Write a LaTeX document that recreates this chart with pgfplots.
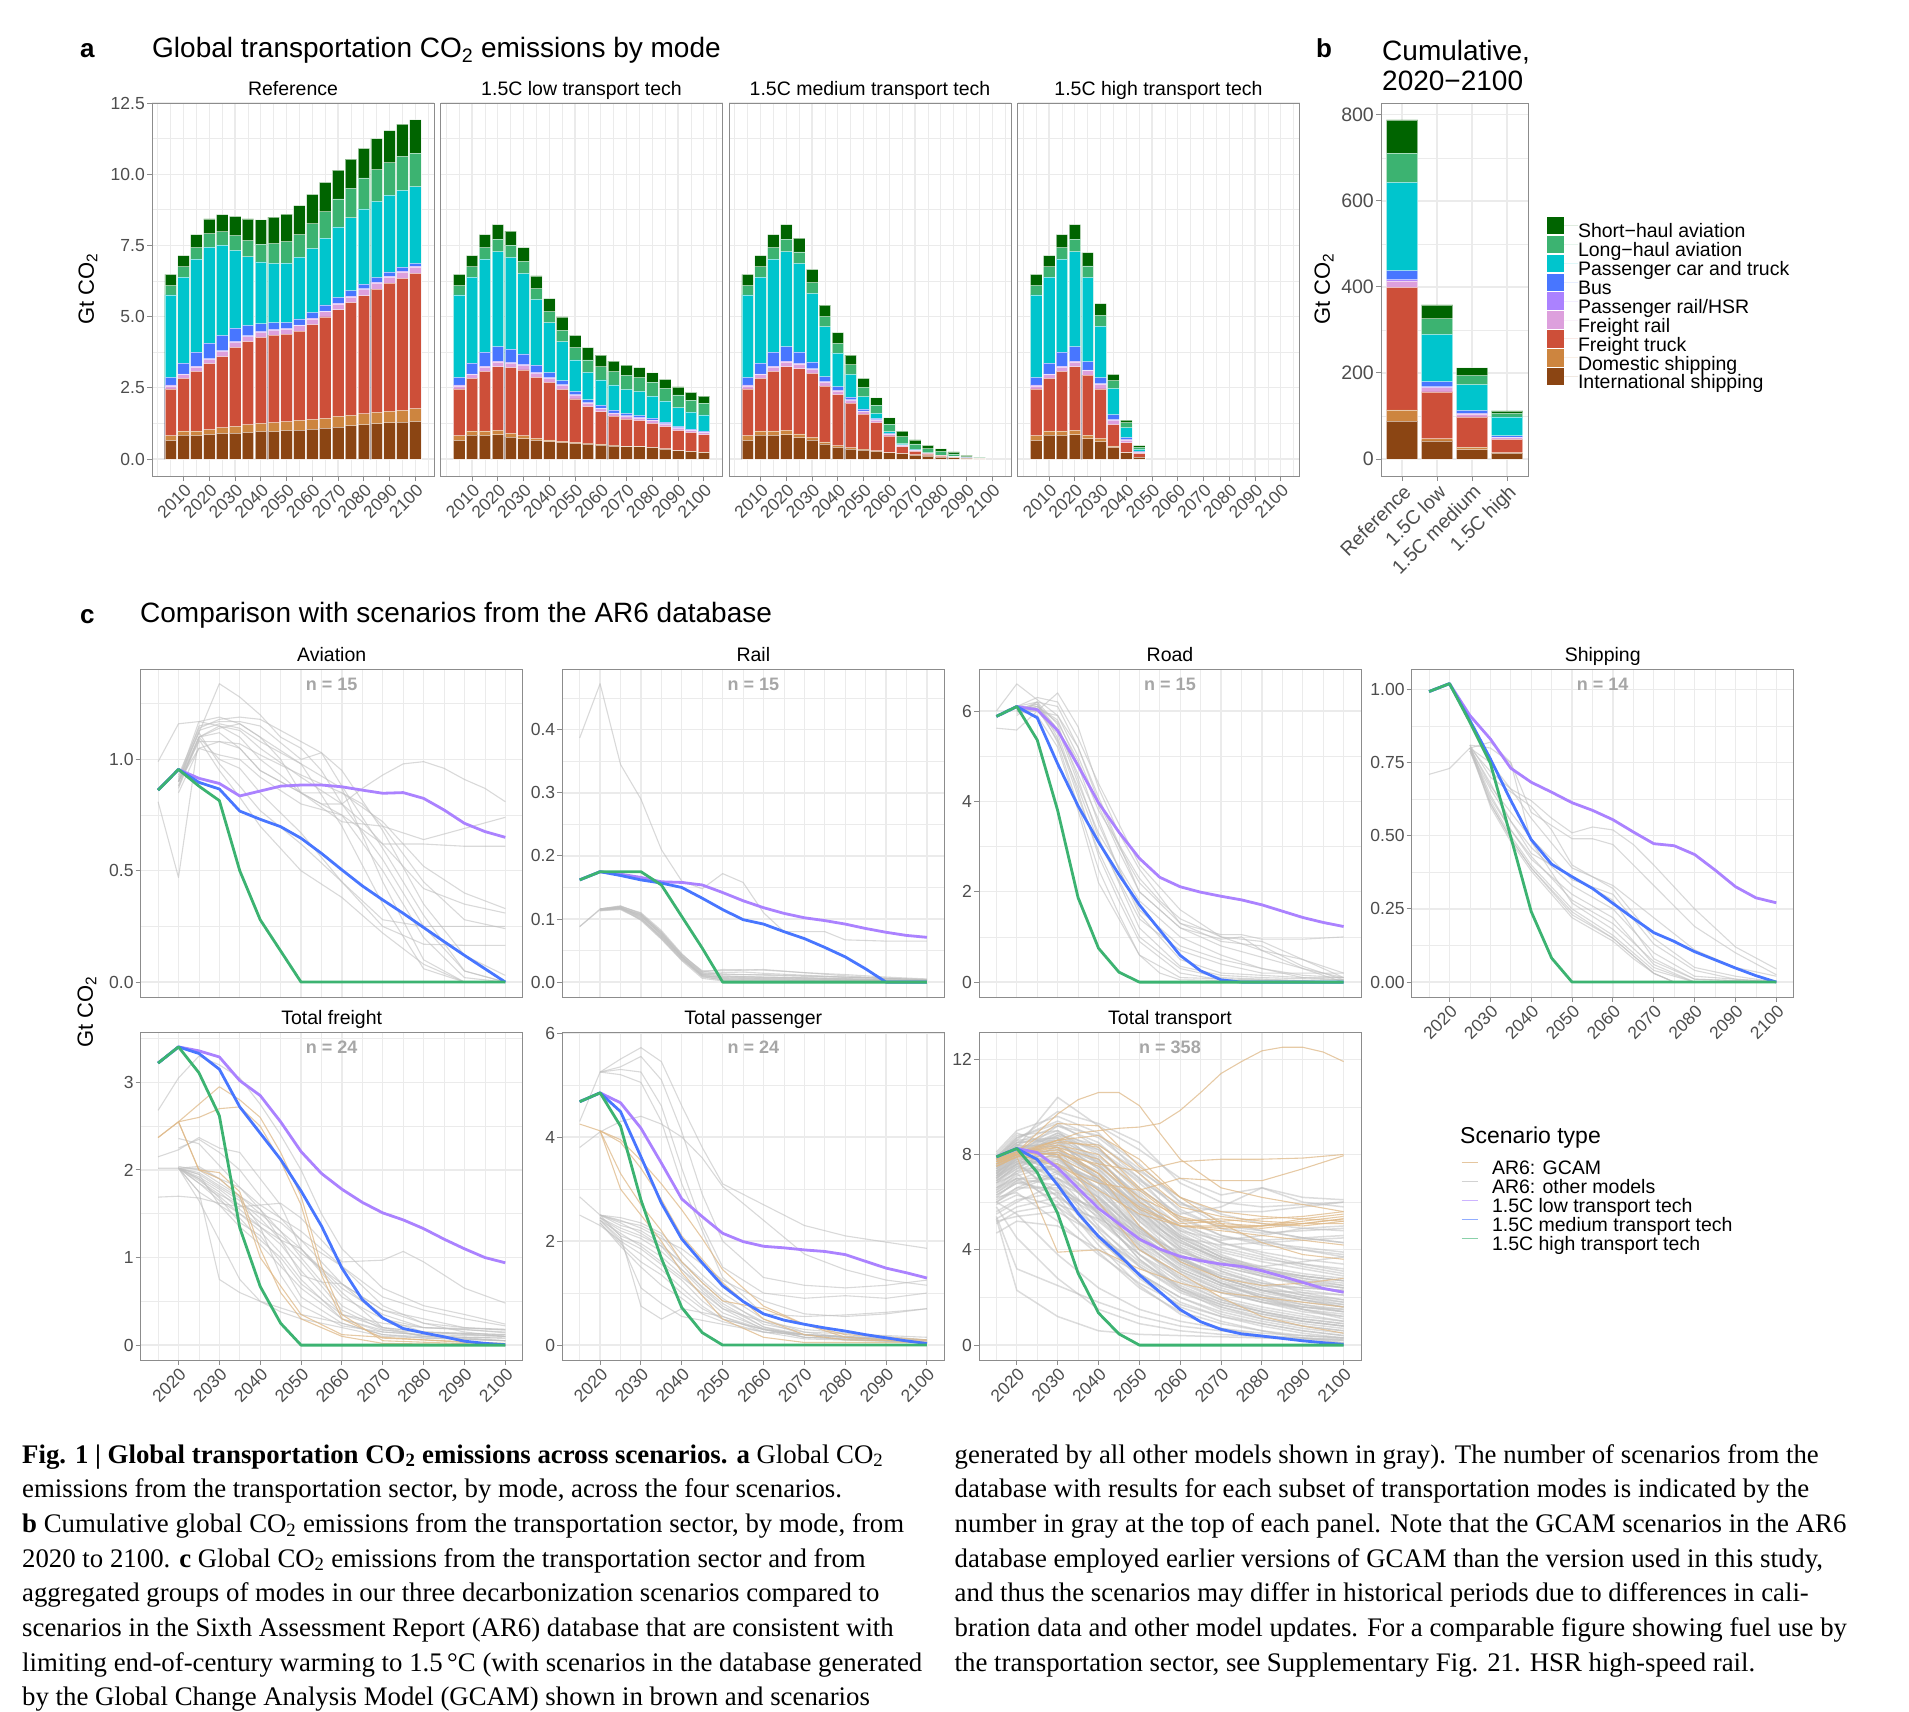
\documentclass[border=0pt]{standalone}
\usepackage{fontspec}
\setmainfont{Liberation Serif}
\newfontfamily\sans{Liberation Sans}
\usepackage{pgfplots}
\usepackage{pgfplotstable}
\pgfplotsset{compat=1.18}

\definecolor{shcol}{HTML}{006400}
\definecolor{lhcol}{HTML}{3CB371}
\definecolor{cacol}{HTML}{00C5CD}
\definecolor{bucol}{HTML}{4876FF}
\definecolor{prcol}{HTML}{AB82FF}
\definecolor{frcol}{HTML}{DDA0DD}
\definecolor{ftcol}{HTML}{CD4F39}
\definecolor{dscol}{HTML}{CD853F}
\definecolor{iscol}{HTML}{8B4513}
\definecolor{gcam}{HTML}{DEB887}
\definecolor{ticktext}{HTML}{4D4D4D}

\newcommand{\fs}[1]{\fontsize{#1}{#1}\selectfont}
\newcommand{\nlab}[1]{\node[font=\sans\bfseries\fs{18}, text=black!35, anchor=base, inner sep=0pt, yshift=-21pt] at (rel axis cs:0.5,1) {n = #1};}

% cumulative stack tops (Gt CO2): intl shipping, +domestic, +freight truck, +freight rail, +pass. rail, +bus, +car, +long-haul, +short-haul
\pgfplotstableread{
yr is ds ft fr pr bu ca lh sh
2005 0.66 0.82 2.46 2.57 2.60 2.87 5.76 6.09 6.48
2010 0.84 0.99 2.83 2.96 2.99 3.37 6.39 6.75 7.14
2015 0.83 0.99 3.08 3.23 3.26 3.75 7.02 7.42 7.88
2020 0.87 1.03 3.35 3.50 3.53 4.07 7.44 7.91 8.43
2025 0.90 1.10 3.60 3.78 3.81 4.34 7.51 7.98 8.58
2030 0.91 1.15 3.92 4.10 4.13 4.60 7.33 7.84 8.52
2035 0.94 1.21 4.12 4.30 4.33 4.69 7.10 7.67 8.43
2040 0.97 1.25 4.27 4.45 4.48 4.75 6.92 7.55 8.40
2045 0.97 1.28 4.35 4.52 4.55 4.79 6.87 7.56 8.49
2050 1.01 1.31 4.39 4.56 4.59 4.80 6.88 7.63 8.60
2055 1.02 1.36 4.49 4.68 4.71 4.92 7.09 7.88 8.90
2060 1.05 1.39 4.72 4.92 4.95 5.15 7.40 8.26 9.29
2065 1.09 1.43 4.99 5.17 5.20 5.41 7.76 8.68 9.71
2070 1.12 1.50 5.24 5.44 5.47 5.68 8.15 9.13 10.14
2075 1.17 1.53 5.49 5.69 5.72 5.91 8.47 9.50 10.53
2080 1.21 1.59 5.73 5.95 5.98 6.14 8.78 9.87 10.91
2085 1.24 1.64 5.97 6.18 6.21 6.38 9.05 10.16 11.25
2090 1.28 1.67 6.18 6.39 6.42 6.57 9.27 10.40 11.53
2095 1.30 1.71 6.34 6.57 6.60 6.74 9.43 10.63 11.76
2100 1.32 1.77 6.52 6.74 6.77 6.87 9.56 10.74 11.91
}\refdata

\pgfplotstableread{
yr is ds ft fr pr bu ca lh sh
2005 0.66 0.82 2.46 2.57 2.60 2.87 5.76 6.09 6.48
2010 0.84 0.99 2.83 2.96 2.99 3.37 6.39 6.75 7.14
2015 0.83 0.99 3.08 3.23 3.26 3.75 7.02 7.42 7.88
2020 0.85 1.01 3.24 3.41 3.44 3.95 7.28 7.72 8.23
2025 0.77 0.90 3.21 3.36 3.39 3.86 7.08 7.51 8.00
2030 0.71 0.82 3.13 3.29 3.32 3.69 6.52 6.94 7.42
2035 0.66 0.73 2.87 3.01 3.04 3.30 5.61 5.98 6.43
2040 0.61 0.67 2.69 2.83 2.86 3.04 4.79 5.18 5.63
2045 0.59 0.62 2.45 2.59 2.61 2.75 4.12 4.52 4.99
2050 0.55 0.59 2.11 2.24 2.26 2.38 3.48 3.91 4.34
2055 0.53 0.55 1.84 1.96 1.98 2.08 3.04 3.48 3.91
2060 0.49 0.52 1.66 1.77 1.79 1.89 2.78 3.24 3.65
2065 0.46 0.48 1.51 1.60 1.62 1.72 2.60 3.07 3.44
2070 0.43 0.45 1.41 1.50 1.52 1.60 2.45 2.94 3.30
2075 0.43 0.45 1.35 1.44 1.46 1.53 2.38 2.86 3.21
2080 0.40 0.41 1.25 1.35 1.37 1.44 2.21 2.70 3.03
2085 0.35 0.36 1.14 1.22 1.24 1.30 2.03 2.48 2.80
2090 0.29 0.30 1.00 1.08 1.10 1.15 1.81 2.25 2.53
2095 0.26 0.27 0.93 1.00 1.02 1.05 1.65 2.07 2.34
2100 0.23 0.25 0.85 0.93 0.95 0.98 1.55 1.96 2.21
}\lowdata

\pgfplotstableread{
yr is ds ft fr pr bu ca lh sh
2005 0.66 0.82 2.46 2.57 2.60 2.87 5.76 6.09 6.48
2010 0.84 0.99 2.83 2.96 2.99 3.37 6.39 6.75 7.14
2015 0.83 0.99 3.08 3.23 3.26 3.75 7.02 7.42 7.88
2020 0.85 1.01 3.24 3.41 3.44 3.95 7.28 7.72 8.23
2025 0.75 0.88 3.17 3.33 3.36 3.76 6.87 7.27 7.76
2030 0.67 0.76 3.01 3.15 3.17 3.41 5.82 6.19 6.66
2035 0.53 0.60 2.56 2.70 2.72 2.89 4.65 5.00 5.40
2040 0.41 0.47 2.26 2.39 2.41 2.54 3.72 4.06 4.44
2045 0.35 0.40 1.96 2.06 2.08 2.17 2.97 3.31 3.65
2050 0.32 0.35 1.58 1.67 1.69 1.76 2.19 2.52 2.83
2055 0.27 0.29 1.28 1.37 1.38 1.43 1.60 1.89 2.15
2060 0.22 0.23 0.81 0.87 0.88 0.90 0.96 1.23 1.45
2065 0.19 0.20 0.43 0.48 0.49 0.50 0.54 0.78 0.98
2070 0.14 0.15 0.27 0.30 0.31 0.32 0.34 0.53 0.67
2075 0.11 0.12 0.18 0.20 0.20 0.21 0.22 0.36 0.48
2080 0.07 0.08 0.12 0.13 0.13 0.135 0.14 0.27 0.36
2085 0.05 0.05 0.07 0.08 0.08 0.085 0.09 0.18 0.25
2090 0.02 0.02 0.035 0.04 0.04 0.045 0.05 0.08 0.13
2095 0.01 0.01 0.015 0.02 0.02 0.02 0.02 0.05 0.06
}\meddata

\pgfplotstableread{
yr is ds ft fr pr bu ca lh sh
2005 0.66 0.82 2.46 2.57 2.60 2.87 5.76 6.09 6.48
2010 0.84 0.99 2.83 2.96 2.99 3.37 6.39 6.75 7.14
2015 0.83 0.99 3.08 3.23 3.26 3.75 7.02 7.42 7.88
2020 0.85 1.01 3.24 3.41 3.44 3.95 7.28 7.72 8.23
2025 0.71 0.84 2.95 3.10 3.13 3.42 6.38 6.78 7.25
2030 0.61 0.73 2.46 2.63 2.65 2.86 4.67 5.04 5.46
2035 0.41 0.46 1.21 1.36 1.38 1.56 2.48 2.75 2.97
2040 0.22 0.23 0.57 0.67 0.68 0.76 1.10 1.28 1.37
2045 0.07 0.07 0.19 0.25 0.25 0.27 0.34 0.41 0.47
}\highdata

% cumulative 2020-2100 (Gt CO2), same stacking
\pgfplotstableread{
k is ds ft fr pr bu ca lh sh
0 88 114 399 414 417 438 643 711 788
1 42 47 156 166 168 180 290 326 358
2 22 28 98 105 106 113 173 194 212
3 14 15 46 50 51 54 98 106 112
}\cumdata

% total transport, AR6 other models (selection)
\pgfplotstableread{
yr t1 t2 t3 t4 t5 t6 t7 t8 t9 t10 t11 t12 t13 t14 t15 t16 t17 t18 t19 t20 t21 t22 t23 t24 t25 t26 t27 t28 t29 t30 t31 t32 t33 t34 t35 t36 t37 t38 t39 t40 t41 t42 t43 t44 t45
2015 7.5 7.8 7.2 7.6 7.4 7.0 7.7 6.8 7.9 6.5 7.3 7.1 6.0 5.5 6.3 7.6 7.2 6.9 5.3 5.2 6.6 7.5 6.2 5.4 5.3 5.8 6.0 6.8 7.3 8.0 7.8 7.4 7.0 6.6 7.9 5.1 4.7 6.4 7.7 7.1 8.1 7.5 6.9 7.6 6.2
2020 8.3 8.6 8.0 8.4 8.2 7.9 8.5 7.6 8.8 7.2 8.1 7.8 6.5 6.0 6.8 8.3 7.9 7.5 5.8 5.4 7.0 8.0 6.4 3.2 2.3 4.5 5.5 7.2 7.7 8.9 8.7 8.1 7.7 7.3 8.6 5.6 5.2 7.0 8.4 7.6 9.0 8.0 7.4 8.2 6.9
2030 10.4 9.8 9.2 9.0 8.8 8.5 8.6 8.2 9.0 7.8 8.0 7.6 7.2 6.8 6.5 7.9 7.3 6.9 6.2 5.6 6.0 6.8 5.2 2.5 1.2 2.8 3.8 5.8 6.2 8.3 9.3 8.4 7.7 8.1 8.7 5.9 5.0 7.0 8.3 6.4 9.6 7.2 7.5 8.9 7.6
2040 9.2 9.3 8.8 8.2 7.8 7.4 7.0 7.2 7.6 6.8 6.5 6.0 6.2 6.0 5.4 6.2 5.5 5.0 5.2 4.6 4.4 4.8 3.8 1.8 0.6 1.5 2.4 3.9 4.2 6.0 8.3 7.5 6.9 7.3 6.8 5.3 4.0 5.9 6.9 4.5 8.9 5.6 6.4 8.1 6.8
2050 8.2 8.5 7.6 6.8 6.2 5.8 5.2 5.6 5.9 5.5 4.8 4.4 4.9 4.6 4.0 4.2 3.6 3.3 3.8 3.3 3.0 3.0 2.6 1.2 0.45 0.9 1.5 2.4 2.5 3.8 6.5 6.0 5.7 5.4 4.6 4.4 3.0 4.5 5.0 2.8 7.2 4.0 4.9 6.9 5.3
2060 7.0 6.8 6.0 5.4 4.8 4.5 4.0 4.2 4.6 4.3 3.6 3.2 3.8 3.5 3.0 2.8 2.4 2.2 2.8 2.3 2.0 1.8 1.7 0.8 0.4 0.6 1.0 1.4 1.3 2.4 5.5 4.8 4.5 3.9 3.3 3.6 2.0 3.4 3.5 1.6 5.6 2.9 3.6 5.9 4.0
2070 6.3 6.0 5.0 4.6 4.0 3.7 3.3 3.5 3.9 3.6 2.8 2.5 3.1 2.7 2.3 2.0 1.8 1.6 2.2 1.7 1.4 1.2 1.2 0.6 0.35 0.45 0.7 0.9 0.7 1.6 5.8 4.4 4.2 3.4 2.6 3.0 1.3 2.6 2.6 1.0 4.9 2.2 2.9 5.6 3.2
2080 6.6 5.8 4.8 4.2 3.6 3.3 2.9 3.1 3.5 3.0 2.3 2.1 2.6 2.2 1.9 1.6 1.4 1.2 1.8 1.3 1.0 0.9 0.8 0.4 0.3 0.35 0.5 0.6 0.4 1.1 6.6 4.6 4.3 3.3 2.3 2.6 0.9 2.0 2.0 0.6 4.7 1.8 2.5 5.6 2.7
2090 6.2 5.9 4.5 4.0 3.4 3.0 2.6 2.9 3.2 2.5 2.0 1.8 2.3 1.9 1.5 1.3 1.1 0.9 1.5 1.0 0.7 0.6 0.5 0.3 0.25 0.3 0.4 0.4 0.2 0.8 6.0 4.9 4.4 3.5 2.2 2.4 0.6 1.6 1.5 0.3 4.8 1.6 2.4 5.8 2.2
2100 6.1 6.0 4.3 3.8 3.2 2.8 2.4 2.7 2.9 2.2 1.8 1.6 2.1 1.7 1.2 1.0 0.9 0.7 1.3 0.8 0.5 0.4 0.3 0.2 0.2 0.25 0.3 0.3 0.1 0.6 5.8 5.0 4.5 3.7 2.1 2.3 0.4 1.4 1.1 0.1 4.9 1.5 2.3 6.0 1.9
}\ttgray

\pgfplotstableread{
yr u1 u2 u3 u4 u5 u6 u7 u8 u9 u10 u11 u12 u13 u14 u15 u16 u17 u18 u19 u20 u21 u22 u23 u24 u25 u26 u27 u28 u29 u30
2015 7.4 7.0 6.7 7.8 7.2 6.1 7.6 7.3 6.9 5.6 7.7 6.4 7.1 7.9 6.6 7.5 7.0 5.9 7.3 6.8 7.6 6.3 7.4 7.8 6.5 7.2 7.7 6.0 7.1 7.5
2020 8.0 7.6 7.3 8.5 7.8 6.6 8.3 7.9 7.5 6.1 8.4 6.9 7.7 8.7 7.1 8.1 7.6 6.3 8.0 7.4 8.2 6.8 8.0 8.5 7.0 7.9 8.3 6.6 7.8 8.2
2030 8.9 8.0 7.4 9.2 7.0 6.6 8.5 8.6 7.9 6.4 8.0 6.3 8.3 9.4 7.6 7.6 7.8 5.8 8.7 8.4 7.3 7.0 8.2 8.7 6.7 8.8 7.9 7.3 8.1 8.6
2040 8.0 7.1 6.2 8.5 5.3 5.6 7.4 7.9 7.0 5.7 6.3 4.9 7.7 8.7 6.9 5.9 6.6 4.6 8.2 7.8 5.5 6.1 7.0 7.7 5.5 8.4 6.5 6.6 7.2 7.6
2050 6.4 5.9 4.7 7.0 3.8 4.3 5.7 6.6 5.2 4.7 4.5 3.5 6.3 7.4 5.6 4.1 5.0 3.4 7.0 6.1 3.6 4.8 5.4 6.2 4.2 7.3 4.9 5.4 5.8 6.0
2060 5.0 4.9 3.4 5.2 2.6 3.2 4.1 5.3 3.7 3.9 3.1 2.5 4.7 6.0 4.4 2.7 3.7 2.4 5.7 4.5 2.3 3.6 4.1 5.0 3.1 6.2 3.6 4.3 4.4 4.6
2070 4.3 4.1 2.6 4.3 1.9 2.5 3.1 4.6 2.8 3.3 2.3 1.8 3.8 5.2 3.6 1.9 2.9 1.7 4.9 3.7 1.5 2.8 3.4 4.5 2.4 5.5 2.8 3.6 3.5 3.7
2080 3.9 3.7 2.1 3.8 1.5 2.0 2.5 4.3 2.3 2.9 1.8 1.4 3.2 4.8 3.1 1.4 2.4 1.3 4.4 3.2 1.1 2.3 3.0 4.4 1.9 5.1 2.3 3.2 2.9 3.1
2090 3.6 3.3 1.7 3.4 1.2 1.7 2.1 4.1 2.0 2.6 1.4 1.1 2.8 4.5 2.8 1.0 2.1 1.0 4.0 2.9 0.8 1.9 2.7 4.5 1.6 4.9 1.9 2.9 2.5 2.7
2100 3.4 3.0 1.4 3.1 1.0 1.5 1.8 3.9 1.7 2.4 1.2 0.9 2.6 4.3 2.5 0.8 1.9 0.8 3.7 2.7 0.6 1.6 2.5 4.6 1.4 4.8 1.6 2.7 2.2 2.4
}\ttgrayb

% total transport, AR6 GCAM (selection)
\pgfplotstableread{
yr g1 g2 g3 g4 g5 g6 g7 g8 g9 g10 g11 g12 g13 g14 g15
2015 7.8 7.7 7.8 7.7 7.6 7.8 7.5 7.8 7.6 7.5 7.8 7.7 7.9 7.7 7.6
2020 8.1 8.0 8.1 8.0 8.0 8.0 7.9 8.1 8.0 7.9 8.1 8.1 8.0 8.0 7.9
2030 8.0 7.5 8.6 8.4 8.2 8.5 7.9 9.3 7.6 3.9 8.0 8.3 8.6 8.3 8.1
2040 7.6 6.8 8.3 8.0 7.5 8.4 7.0 9.2 6.5 4.0 6.0 7.2 8.8 7.8 7.2
2050 7.3 6.5 6.6 6.5 6.2 7.2 5.8 7.5 5.5 3.2 4.0 5.0 7.8 6.0 5.7
2060 7.7 7.0 5.3 5.2 5.4 5.8 5.0 6.2 5.0 2.6 3.0 3.5 6.2 5.1 5.0
2070 7.8 6.9 5.1 5.3 5.0 5.4 5.0 5.6 4.8 2.2 2.0 2.8 5.1 5.2 4.9
2080 7.8 6.9 5.0 5.1 5.0 5.2 4.9 5.4 4.6 2.0 1.2 2.5 4.3 5.3 5.0
2090 7.85 7.4 5.2 5.0 5.3 5.1 5.1 5.3 4.4 1.8 0.8 2.6 3.8 5.4 5.1
2100 8.0 7.95 5.4 5.2 5.5 5.1 5.3 5.2 4.2 1.6 0.5 2.8 3.6 5.6 5.3
}\ttgcam

\pgfplotsset{
  gg/.style={
    scale only axis, anchor=north west,
    axis line style={black!45, line width=1pt},
    grid=both,
    major grid style={gray!16, line width=1.3pt},
    minor grid style={gray!16, line width=0.65pt},
    tick style={black!45, line width=1pt},
    major tick length=5pt, minor tick length=0pt,
    tick align=outside, tick pos=left,
    tick label style={font=\sans\fs{17.5}, text=ticktext},
    yticklabel style={inner sep=2pt},
    xticklabel style={rotate=45, anchor=north east, inner sep=1.5pt},
    every axis title/.style={font=\sans\fs{19.5}, at={(0.5,1)}, anchor=base, yshift=7.5pt, inner sep=0pt},
  },
  gga/.style={gg, width=282pt, height=373pt,
    xmin=1997.75, xmax=2107.25, ymin=-0.595, ymax=12.5,
    xtick={2010,2020,2030,2040,2050,2060,2070,2080,2090,2100},
    xticklabels={2010,2020,2030,2040,2050,2060,2070,2080,2090,2100},
    minor xtick={2000,2005,2015,2025,2035,2045,2055,2065,2075,2085,2095,2105},
    ytick={0,2.5,5,7.5,10,12.5}, yticklabels={0.0,2.5,5.0,7.5,10.0,12.5},
    minor ytick={1.25,3.75,6.25,8.75,11.25}},
  inner/.style={yticklabels={}, ytick style={draw=none}},
  stk/.style={ybar, bar width=4.5, bar shift=0pt, fill=#1, draw=white, draw opacity=0.55, line width=0.7pt},
  stkb/.style={ybar, bar width=0.9, bar shift=0pt, fill=#1, draw=white, draw opacity=0.55, line width=0.7pt, forget plot},
  ggc/.style={gg, width=382pt, height=328pt, xmin=2010.75, xmax=2104.25,
    xtick={2020,2030,2040,2050,2060,2070,2080,2090,2100},
    xticklabels={2020,2030,2040,2050,2060,2070,2080,2090,2100},
    minor xtick={2015,2025,2035,2045,2055,2065,2075,2085,2095}},
  notx/.style={xticklabels={}, xtick style={draw=none}},
  ar6/.style={draw=gray!50, line width=1.1pt, draw opacity=0.6, mark=none, line join=round},
  ar6t/.style={draw=gray!50, line width=1.5pt, draw opacity=0.55, mark=none, line join=round},
  gc/.style={draw=gcam, line width=1.1pt, draw opacity=0.75, mark=none, line join=round},
  lowt/.style={draw=prcol, line width=2.8pt, mark=none, line join=round},
  medt/.style={draw=bucol, line width=2.8pt, mark=none, line join=round},
  hight/.style={draw=lhcol, line width=2.8pt, mark=none, line join=round},
}

\newcommand{\stack}[1]{%
  \addplot[stk=shcol] table[x=yr,y=sh]{#1};
  \addplot[stk=lhcol] table[x=yr,y=lh]{#1};
  \addplot[stk=cacol] table[x=yr,y=ca]{#1};
  \addplot[stk=bucol] table[x=yr,y=bu]{#1};
  \addplot[stk=prcol] table[x=yr,y=pr]{#1};
  \addplot[stk=frcol] table[x=yr,y=fr]{#1};
  \addplot[stk=ftcol] table[x=yr,y=ft]{#1};
  \addplot[stk=dscol] table[x=yr,y=ds]{#1};
  \addplot[stk=iscol] table[x=yr,y=is]{#1};
}

\begin{document}
\begin{tikzpicture}[font=\sans]
\useasboundingbox (0pt,0pt) rectangle (1909pt,-1711pt);

% ---------------- panel a ----------------
\node[anchor=base west, inner sep=0pt, font=\sans\bfseries\fs{26}] at (80pt,-57pt) {a};
\node[anchor=base west, inner sep=0pt, font=\sans\fs{28}] at (152pt,-57pt) {Global transportation CO\textsubscript{2} emissions by mode};
\node[rotate=90, inner sep=0pt, font=\sans\fs{22}] at (88pt,-289pt) {Gt CO\textsubscript{2}};

\begin{axis}[gga, at={(152pt,-103pt)}, title={Reference}]
\stack{\refdata}
\end{axis}
\begin{axis}[gga, inner, at={(440.5pt,-103pt)}, title={1.5C low transport tech}]
\stack{\lowdata}
\end{axis}
\begin{axis}[gga, inner, at={(729pt,-103pt)}, title={1.5C medium transport tech}]
\stack{\meddata}
\end{axis}
\begin{axis}[gga, inner, at={(1017.5pt,-103pt)}, title={1.5C high transport tech}]
\stack{\highdata}
\end{axis}

% ---------------- panel b ----------------
\node[anchor=base west, inner sep=0pt, font=\sans\bfseries\fs{26}] at (1316pt,-57pt) {b};
\node[anchor=base west, inner sep=0pt, font=\sans\fs{28}] at (1382pt,-60.5pt) {Cumulative,};
\node[anchor=base west, inner sep=0pt, font=\sans\fs{28}] at (1382pt,-90.5pt) {2020−2100};
\node[rotate=90, inner sep=0pt, font=\sans\fs{22}] at (1324pt,-289pt) {Gt CO\textsubscript{2}};

\begin{axis}[gg, at={(1381pt,-103pt)}, width=147pt, height=373pt,
  xmin=-0.6, xmax=3.6, ymin=-39.4, ymax=827.4,
  tick label style={font=\sans\fs{19.5}, text=ticktext},
  xtick={0,1,2,3}, xticklabels={Reference,1.5C low,1.5C medium,1.5C high},
  ytick={0,200,400,600,800}, yticklabels={0,200,400,600,800},
  minor ytick={100,300,500,700},
  legend style={at={(1.1293,0.6794)}, anchor=north west, draw=none, fill=none,
    inner sep=0pt, outer sep=0pt, row sep=0pt, font=\sans\fs{19.5},
    nodes={inner sep=0pt, anchor=west, text height=15.2pt, text depth=3.7pt}},
  legend cell align=left,
  legend image code/.code={\fill[#1, overlay] (0pt,-2.2pt) rectangle (17.4pt,15.2pt); \path (0pt,6.5pt) -- (31pt,6.5pt);}]
\addplot[stkb=shcol] table[x=k,y=sh]{\cumdata};
\addplot[stkb=lhcol] table[x=k,y=lh]{\cumdata};
\addplot[stkb=cacol] table[x=k,y=ca]{\cumdata};
\addplot[stkb=bucol] table[x=k,y=bu]{\cumdata};
\addplot[stkb=prcol] table[x=k,y=pr]{\cumdata};
\addplot[stkb=frcol] table[x=k,y=fr]{\cumdata};
\addplot[stkb=ftcol] table[x=k,y=ft]{\cumdata};
\addplot[stkb=dscol] table[x=k,y=ds]{\cumdata};
\addplot[stkb=iscol] table[x=k,y=is]{\cumdata};
\addlegendimage{fill=shcol, draw=none}
\addlegendentry{Short−haul aviation}
\addlegendimage{fill=lhcol, draw=none}
\addlegendentry{Long−haul aviation}
\addlegendimage{fill=cacol, draw=none}
\addlegendentry{Passenger car and truck}
\addlegendimage{fill=bucol, draw=none}
\addlegendentry{Bus}
\addlegendimage{fill=prcol, draw=none}
\addlegendentry{Passenger rail/HSR}
\addlegendimage{fill=frcol, draw=none}
\addlegendentry{Freight rail}
\addlegendimage{fill=ftcol, draw=none}
\addlegendentry{Freight truck}
\addlegendimage{fill=dscol, draw=none}
\addlegendentry{Domestic shipping}
\addlegendimage{fill=iscol, draw=none}
\addlegendentry{International shipping}
\end{axis}

% ---------------- panel c ----------------
\node[anchor=base west, inner sep=0pt, font=\sans\bfseries\fs{26}] at (80pt,-623pt) {c};
\node[anchor=base west, inner sep=0pt, font=\sans\fs{28}] at (140pt,-622pt) {Comparison with scenarios from the AR6 database};
\node[rotate=90, inner sep=0pt, font=\sans\fs{22}] at (87pt,-1012pt) {Gt CO\textsubscript{2}};

% Aviation
\begin{axis}[ggc, notx, at={(140.7pt,-669pt)}, ymin=-0.067, ymax=1.406,
  ytick={0,0.5,1}, yticklabels={0.0,0.5,1.0}, minor ytick={0.25,0.75,1.25}, title={Aviation}]
\addplot[ar6] coordinates {(2015,0.99)(2020,1.16)(2025,1.17)(2030,1.15)(2035,1.10)(2040,1.00)(2045,0.93)(2050,0.85)(2055,0.80)(2060,0.80)(2065,0.87)(2070,0.93)(2075,0.98)(2080,0.99)(2085,0.96)(2090,0.91)(2095,0.87)(2100,0.81)};
\addplot[ar6] coordinates {(2015,0.81)(2020,0.47)(2025,1.10)(2030,1.14)(2035,1.16)(2040,1.10)(2045,1.00)(2050,0.85)(2060,0.72)(2070,0.70)(2080,0.64)(2090,0.69)(2100,0.74)};
\addplot[ar6] coordinates {(2020,0.92)(2025,1.12)(2030,1.34)(2035,1.28)(2040,1.20)(2045,1.10)(2050,1.05)(2055,0.95)(2060,0.80)(2070,0.55)(2080,0.25)(2090,0.05)(2100,0.0)};
\addplot[ar6] coordinates {(2020,0.93)(2025,1.14)(2030,1.18)(2035,1.19)(2040,1.18)(2045,1.13)(2050,1.08)(2055,1.03)(2060,0.88)(2070,0.60)(2080,0.30)(2090,0.05)(2100,0.0)};
\addplot[ar6] coordinates {(2020,0.90)(2025,1.15)(2030,1.17)(2035,1.17)(2040,1.15)(2050,1.00)(2055,1.03)(2060,0.95)(2070,0.68)(2080,0.35)(2090,0.12)(2100,0.03)};
\addplot[ar6] coordinates {(2020,0.88)(2025,1.10)(2030,1.15)(2035,1.13)(2040,1.05)(2050,0.92)(2060,0.80)(2065,0.72)(2070,0.62)(2080,0.62)(2090,0.61)(2100,0.61)};
\addplot[ar6] coordinates {(2020,0.90)(2025,1.08)(2030,1.08)(2035,1.07)(2040,1.02)(2050,0.93)(2060,0.85)(2070,0.72)(2080,0.52)(2090,0.40)(2100,0.33)};
\addplot[ar6] coordinates {(2020,0.90)(2025,1.05)(2030,1.02)(2035,1.00)(2040,0.92)(2050,0.80)(2060,0.75)(2070,0.62)(2080,0.42)(2090,0.35)(2100,0.31)};
\addplot[ar6] coordinates {(2020,0.88)(2025,1.10)(2030,1.00)(2035,0.96)(2040,0.85)(2050,0.67)(2060,0.45)(2070,0.28)(2080,0.25)(2090,0.25)(2100,0.25)};
\addplot[ar6] coordinates {(2020,0.90)(2025,1.12)(2030,0.98)(2035,0.88)(2040,0.77)(2050,0.62)(2060,0.45)(2070,0.25)(2080,0.17)(2090,0.165)(2100,0.165)};
\addplot[ar6] coordinates {(2020,0.87)(2025,1.09)(2030,0.95)(2035,0.83)(2040,0.70)(2045,0.60)(2050,0.50)(2060,0.38)(2070,0.22)(2080,0.08)(2090,0.0)(2100,0.0)};
\addplot[ar6] coordinates {(2020,0.90)(2025,1.13)(2030,1.16)(2035,1.14)(2040,1.08)(2050,0.98)(2060,0.87)(2070,0.45)(2080,0.10)(2090,0.0)(2100,0.0)};
\addplot[ar6] coordinates {(2020,0.91)(2025,1.17)(2030,1.19)(2035,1.16)(2040,1.10)(2050,0.98)(2060,0.70)(2070,0.35)(2080,0.06)(2090,0.0)(2100,0.0)};
\addplot[ar6] coordinates {(2020,0.85)(2025,1.05)(2030,1.08)(2035,1.05)(2040,0.95)(2050,0.85)(2060,0.85)(2065,0.80)(2070,0.70)(2080,0.45)(2090,0.28)(2100,0.24)};
\addplot[ar6] coordinates {(2020,0.90)(2025,1.10)(2030,1.12)(2035,1.05)(2040,0.95)(2050,0.85)(2060,0.75)(2070,0.50)(2080,0.20)(2090,0.02)(2100,0.0)};
\addplot[lowt] coordinates {(2015,0.862)(2020,0.955)(2025,0.915)(2030,0.892)(2035,0.836)(2040,0.858)(2045,0.880)(2050,0.885)(2055,0.885)(2060,0.877)(2065,0.862)(2070,0.848)(2075,0.851)(2080,0.825)(2085,0.773)(2090,0.713)(2095,0.676)(2100,0.650)};
\addplot[medt] coordinates {(2015,0.862)(2020,0.955)(2025,0.897)(2030,0.867)(2035,0.768)(2040,0.731)(2045,0.698)(2050,0.646)(2055,0.578)(2060,0.504)(2065,0.432)(2070,0.369)(2075,0.309)(2080,0.245)(2085,0.182)(2090,0.120)(2095,0.060)(2100,0)};
\addplot[hight] coordinates {(2015,0.862)(2020,0.955)(2025,0.880)(2030,0.815)(2035,0.500)(2040,0.280)(2045,0.140)(2050,0)(2100,0)};
\nlab{15}
\end{axis}

% Rail
\begin{axis}[ggc, notx, at={(562.3pt,-669pt)}, ymin=-0.0236, ymax=0.4963,
  ytick={0,0.1,0.2,0.3,0.4}, yticklabels={0.0,0.1,0.2,0.3,0.4}, minor ytick={0.05,0.15,0.25,0.35,0.45}, title={Rail}]
\addplot[ar6] coordinates {(2015,0.387)(2020,0.473)(2025,0.345)(2030,0.29)(2035,0.21)(2040,0.16)(2045,0.148)(2050,0.172)(2055,0.158)(2060,0.11)(2065,0.08)(2070,0.08)(2075,0.08)(2080,0.067)(2090,0.065)(2100,0.065)};
\addplot[ar6] coordinates {(2015,0.088)(2020,0.115)(2025,0.117)(2030,0.107)(2035,0.080)(2040,0.043)(2045,0.018)(2050,0.018)(2060,0.020)(2070,0.015)(2080,0.010)(2090,0.006)(2100,0.003)};
\addplot[ar6] coordinates {(2020,0.116)(2025,0.120)(2030,0.110)(2035,0.082)(2040,0.045)(2045,0.015)(2050,0.012)(2060,0.012)(2080,0.008)(2100,0.004)};
\addplot[ar6] coordinates {(2020,0.115)(2025,0.119)(2030,0.104)(2035,0.076)(2040,0.040)(2045,0.010)(2050,0.008)(2070,0.006)(2100,0.002)};
\addplot[ar6] coordinates {(2020,0.114)(2025,0.116)(2030,0.100)(2035,0.072)(2040,0.038)(2045,0.008)(2050,0.004)(2100,0.001)};
\addplot[ar6] coordinates {(2020,0.116)(2025,0.121)(2030,0.108)(2035,0.078)(2040,0.042)(2045,0.014)(2050,0.010)(2060,0.008)(2100,0.003)};
\addplot[ar6] coordinates {(2020,0.115)(2025,0.118)(2030,0.102)(2035,0.070)(2040,0.036)(2045,0.012)(2050,0.015)(2055,0.016)(2060,0.014)(2080,0.008)(2100,0.004)};
\addplot[ar6] coordinates {(2020,0.114)(2025,0.117)(2030,0.098)(2035,0.068)(2040,0.034)(2045,0.006)(2050,0.002)(2100,0.0)};
\addplot[ar6] coordinates {(2020,0.116)(2025,0.119)(2030,0.106)(2035,0.074)(2040,0.040)(2045,0.016)(2050,0.020)(2060,0.019)(2070,0.015)(2080,0.012)(2090,0.008)(2100,0.005)};
\addplot[ar6] coordinates {(2020,0.115)(2025,0.118)(2030,0.103)(2035,0.073)(2040,0.039)(2045,0.011)(2050,0.006)(2100,0.002)};
\addplot[ar6] coordinates {(2020,0.113)(2025,0.115)(2030,0.099)(2035,0.069)(2040,0.035)(2045,0.009)(2050,0.003)(2100,0.001)};
\addplot[ar6] coordinates {(2020,0.116)(2025,0.120)(2030,0.109)(2035,0.079)(2040,0.044)(2045,0.017)(2050,0.013)(2060,0.011)(2100,0.004)};
\addplot[ar6] coordinates {(2020,0.115)(2025,0.117)(2030,0.101)(2035,0.071)(2040,0.037)(2045,0.010)(2050,0.005)(2100,0.001)};
\addplot[ar6] coordinates {(2020,0.114)(2025,0.116)(2030,0.105)(2035,0.077)(2040,0.041)(2045,0.013)(2050,0.009)(2070,0.007)(2100,0.002)};
\addplot[ar6] coordinates {(2015,0.088)(2020,0.116)(2025,0.118)(2030,0.107)(2035,0.075)(2040,0.040)(2045,0.012)(2050,0.007)(2100,0.002)};
\addplot[lowt] coordinates {(2015,0.162)(2020,0.175)(2025,0.171)(2030,0.166)(2035,0.159)(2040,0.158)(2045,0.154)(2050,0.142)(2055,0.129)(2060,0.118)(2065,0.109)(2070,0.102)(2075,0.0975)(2080,0.092)(2085,0.085)(2090,0.079)(2095,0.074)(2100,0.071)};
\addplot[medt] coordinates {(2015,0.162)(2020,0.175)(2025,0.169)(2030,0.162)(2035,0.157)(2040,0.150)(2045,0.133)(2050,0.115)(2055,0.099)(2060,0.092)(2065,0.080)(2070,0.069)(2075,0.055)(2080,0.040)(2085,0.021)(2090,0)(2100,0)};
\addplot[hight] coordinates {(2015,0.162)(2020,0.175)(2025,0.175)(2030,0.175)(2035,0.154)(2040,0.104)(2045,0.054)(2050,0)(2100,0)};
\nlab{15}
\end{axis}

% Road
\begin{axis}[ggc, notx, at={(979pt,-669pt)}, ymin=-0.33, ymax=6.93,
  ytick={0,2,4,6}, yticklabels={0,2,4,6}, minor ytick={1,3,5}, title={Road}]
\addplot[ar6] coordinates {(2015,6.0)(2020,6.6)(2025,6.25)(2030,5.9)(2035,5.2)(2040,4.0)(2045,3.0)(2050,2.2)(2060,1.3)(2070,1.05)(2075,1.05)(2080,0.95)(2090,0.95)(2100,1.0)};
\addplot[ar6] coordinates {(2015,5.62)(2020,5.58)(2025,6.0)(2030,6.4)(2035,5.65)(2040,4.3)(2045,3.3)(2050,2.5)(2060,1.3)(2070,0.9)(2080,0.8)(2090,0.35)(2100,0.05)};
\addplot[ar6] coordinates {(2020,6.1)(2025,6.3)(2030,6.2)(2035,5.4)(2040,4.4)(2050,2.6)(2060,1.6)(2070,1.0)(2080,0.7)(2090,0.5)(2100,0.2)};
\addplot[ar6] coordinates {(2020,6.0)(2025,6.2)(2030,6.1)(2035,5.2)(2040,4.1)(2050,2.0)(2060,1.2)(2070,0.8)(2080,0.55)(2090,0.3)(2100,0.1)};
\addplot[ar6] coordinates {(2020,6.0)(2025,6.1)(2030,5.8)(2035,4.8)(2040,3.5)(2050,1.5)(2060,0.5)(2070,0.2)(2080,0.15)(2090,0.1)(2100,0.1)};
\addplot[ar6] coordinates {(2020,5.9)(2025,6.2)(2030,5.7)(2035,4.5)(2040,3.2)(2050,1.2)(2060,0.35)(2070,0.15)(2080,0.1)(2100,0.05)};
\addplot[ar6] coordinates {(2020,6.0)(2025,6.0)(2030,5.5)(2035,4.2)(2040,2.8)(2045,1.8)(2050,0.9)(2060,0.2)(2070,0.05)(2100,0.0)};
\addplot[ar6] coordinates {(2020,6.05)(2025,6.15)(2030,5.3)(2035,3.9)(2040,2.5)(2045,1.5)(2050,0.6)(2055,0.2)(2060,0.05)(2100,0)};
\addplot[ar6] coordinates {(2020,5.95)(2025,6.1)(2030,5.6)(2035,4.6)(2040,3.6)(2045,2.5)(2050,1.6)(2060,0.8)(2070,0.5)(2080,0.3)(2090,0.1)(2100,0.05)};
\addplot[ar6] coordinates {(2020,6.0)(2025,6.0)(2030,5.9)(2035,5.0)(2040,3.9)(2045,2.9)(2050,2.0)(2060,1.2)(2070,0.95)(2075,1.0)(2080,0.7)(2090,0.3)(2100,0.0)};
\addplot[ar6] coordinates {(2020,6.1)(2025,6.2)(2030,5.4)(2035,4.1)(2040,2.9)(2050,1.0)(2060,0.3)(2070,0.1)(2100,0)};
\addplot[ar6] coordinates {(2020,6.0)(2025,5.9)(2030,5.2)(2035,3.8)(2040,2.2)(2050,0.6)(2060,0.1)(2100,0)};
\addplot[ar6] coordinates {(2020,6.05)(2025,6.1)(2030,5.75)(2035,4.9)(2040,3.8)(2050,2.3)(2055,1.8)(2060,1.4)(2070,1.0)(2080,0.9)(2090,0.5)(2100,0.1)};
\addplot[ar6] coordinates {(2020,6.0)(2025,6.15)(2030,5.6)(2035,4.4)(2040,3.3)(2050,1.8)(2060,1.0)(2070,0.6)(2080,0.3)(2090,0.15)(2100,0.1)};
\addplot[ar6] coordinates {(2020,6.0)(2025,6.05)(2030,5.35)(2035,4.3)(2040,3.1)(2050,1.4)(2060,0.7)(2070,0.4)(2080,0.2)(2100,0.2)};
\addplot[lowt] coordinates {(2015,5.88)(2020,6.10)(2025,6.03)(2030,5.57)(2035,4.79)(2040,3.97)(2045,3.32)(2050,2.74)(2055,2.32)(2060,2.11)(2065,1.99)(2070,1.90)(2075,1.82)(2080,1.71)(2085,1.57)(2090,1.43)(2095,1.32)(2100,1.23)};
\addplot[medt] coordinates {(2015,5.88)(2020,6.10)(2025,5.85)(2030,4.83)(2035,3.90)(2040,3.10)(2045,2.38)(2050,1.71)(2055,1.15)(2060,0.59)(2065,0.25)(2070,0.05)(2075,0)(2100,0)};
\addplot[hight] coordinates {(2015,5.88)(2020,6.10)(2025,5.36)(2030,3.80)(2035,1.87)(2040,0.75)(2045,0.22)(2050,0)(2100,0)};
\nlab{15}
\end{axis}

% Shipping
\begin{axis}[ggc, at={(1411.7pt,-669pt)}, ymin=-0.051, ymax=1.07,
  ytick={0,0.25,0.5,0.75,1}, yticklabels={0.00,0.25,0.50,0.75,1.00}, minor ytick={0.125,0.375,0.625,0.875}, title={Shipping}]
\addplot[ar6] coordinates {(2015,0.71)(2020,0.73)(2025,0.80)(2030,0.72)(2035,0.66)(2040,0.62)(2045,0.56)(2050,0.51)(2055,0.53)(2060,0.52)(2065,0.47)(2070,0.40)(2080,0.25)(2090,0.12)(2100,0.045)};
\addplot[ar6] coordinates {(2025,0.80)(2030,0.82)(2035,0.75)(2040,0.58)(2050,0.49)(2055,0.49)(2060,0.47)(2070,0.33)(2080,0.19)(2090,0.10)(2100,0.025)};
\addplot[ar6] coordinates {(2025,0.81)(2030,0.70)(2035,0.65)(2040,0.60)(2045,0.52)(2050,0.40)(2060,0.32)(2070,0.15)(2080,0.05)(2090,0.02)(2100,0.0)};
\addplot[ar6] coordinates {(2025,0.80)(2030,0.68)(2035,0.55)(2040,0.44)(2050,0.36)(2060,0.28)(2070,0.08)(2080,0.01)(2100,0)};
\addplot[ar6] coordinates {(2025,0.79)(2030,0.63)(2035,0.52)(2040,0.42)(2050,0.30)(2060,0.22)(2070,0.06)(2080,0.0)(2100,0)};
\addplot[ar6] coordinates {(2025,0.80)(2030,0.61)(2035,0.49)(2040,0.39)(2045,0.31)(2050,0.23)(2055,0.19)(2060,0.15)(2065,0.09)(2070,0.03)(2075,0.0)(2100,0)};
\addplot[ar6] coordinates {(2025,0.80)(2030,0.60)(2035,0.48)(2040,0.38)(2045,0.30)(2050,0.22)(2055,0.18)(2060,0.14)(2065,0.08)(2070,0.03)(2075,0.0)(2100,0)};
\addplot[ar6] coordinates {(2025,0.81)(2030,0.62)(2035,0.50)(2040,0.40)(2050,0.25)(2060,0.16)(2070,0.04)(2080,0.0)(2100,0)};
\addplot[ar6] coordinates {(2025,0.79)(2030,0.66)(2035,0.55)(2040,0.46)(2050,0.33)(2060,0.25)(2070,0.10)(2080,0.02)(2100,0)};
\addplot[ar6] coordinates {(2025,0.80)(2030,0.64)(2035,0.52)(2040,0.43)(2050,0.28)(2060,0.20)(2070,0.07)(2080,0.01)(2100,0)};
\addplot[ar6] coordinates {(2025,0.80)(2030,0.75)(2035,0.66)(2040,0.56)(2050,0.39)(2060,0.33)(2070,0.22)(2080,0.11)(2090,0.05)(2100,0.02)};
\addplot[ar6] coordinates {(2025,0.81)(2030,0.80)(2035,0.75)(2040,0.48)(2050,0.27)(2060,0.18)(2070,0.05)(2080,0.0)(2100,0)};
\addplot[ar6] coordinates {(2025,0.79)(2030,0.61)(2035,0.49)(2040,0.39)(2050,0.24)(2060,0.15)(2070,0.03)(2075,0.0)(2100,0)};
\addplot[ar6] coordinates {(2025,0.80)(2030,0.67)(2035,0.58)(2040,0.49)(2050,0.35)(2060,0.30)(2070,0.13)(2080,0.04)(2090,0.01)(2100,0)};
\addplot[lowt] coordinates {(2015,0.993)(2020,1.02)(2025,0.911)(2030,0.831)(2035,0.731)(2040,0.683)(2045,0.649)(2050,0.613)(2055,0.587)(2060,0.555)(2065,0.513)(2070,0.473)(2075,0.466)(2080,0.436)(2085,0.383)(2090,0.326)(2095,0.288)(2100,0.271)};
\addplot[medt] coordinates {(2015,0.993)(2020,1.02)(2025,0.894)(2030,0.763)(2035,0.621)(2040,0.487)(2045,0.403)(2050,0.360)(2055,0.320)(2060,0.269)(2065,0.218)(2070,0.169)(2075,0.139)(2080,0.104)(2085,0.076)(2090,0.048)(2095,0.022)(2100,0)};
\addplot[hight] coordinates {(2015,0.993)(2020,1.02)(2025,0.888)(2030,0.748)(2035,0.496)(2040,0.241)(2045,0.082)(2050,0)(2100,0)};
\nlab{14}
\end{axis}

% Total freight
\begin{axis}[ggc, at={(140.7pt,-1032pt)}, ymin=-0.17, ymax=3.575,
  ytick={0,1,2,3}, yticklabels={0,1,2,3}, minor ytick={0.5,1.5,2.5,3.5}, title={Total freight}]
\addplot[ar6] coordinates {(2015,2.68)(2020,3.05)(2025,3.30)(2030,3.20)(2035,3.05)(2040,2.75)(2045,2.40)(2050,2.00)(2055,1.50)(2060,1.10)(2070,0.65)(2080,0.45)(2090,0.35)(2100,0.24)};
\addplot[ar6] coordinates {(2015,2.15)(2020,2.23)(2025,2.37)(2030,2.25)(2035,2.20)(2040,1.90)(2045,1.60)(2050,1.10)(2060,0.55)(2070,0.30)(2080,0.20)(2090,0.18)(2100,0.14)};
\addplot[ar6] coordinates {(2015,2.02)(2020,2.02)(2025,2.04)(2030,1.90)(2035,1.70)(2040,1.55)(2045,1.30)(2050,1.00)(2060,0.45)(2070,0.20)(2080,0.15)(2100,0.10)};
\addplot[ar6] coordinates {(2015,1.69)(2020,1.70)(2025,1.68)(2030,1.62)(2035,1.58)(2040,1.60)(2045,1.62)(2050,1.45)(2055,1.20)(2060,0.95)(2070,0.97)(2075,1.07)(2080,0.95)(2090,0.65)(2100,0.48)};
\addplot[ar6] coordinates {(2020,2.02)(2025,1.75)(2030,0.75)(2035,0.60)(2040,0.50)(2050,0.35)(2060,0.25)(2070,0.12)(2080,0.08)(2100,0.05)};
\addplot[ar6] coordinates {(2020,2.02)(2025,1.65)(2030,1.20)(2035,0.75)(2040,0.50)(2045,0.38)(2050,0.30)(2060,0.20)(2070,0.10)(2100,0.05)};
\addplot[ar6] coordinates {(2020,2.25)(2025,2.35)(2030,2.20)(2035,2.00)(2040,1.70)(2045,1.45)(2050,1.20)(2060,0.70)(2070,0.40)(2080,0.30)(2090,0.20)(2100,0.17)};
\addplot[ar6] coordinates {(2020,2.02)(2025,1.95)(2030,1.80)(2035,1.65)(2040,1.45)(2045,1.20)(2050,0.95)(2060,0.40)(2070,0.18)(2080,0.10)(2100,0.08)};
\addplot[ar6] coordinates {(2020,2.02)(2025,1.90)(2030,1.75)(2035,1.55)(2040,1.35)(2045,1.15)(2050,0.85)(2060,0.35)(2070,0.20)(2080,0.15)(2100,0.12)};
\addplot[ar6] coordinates {(2020,2.02)(2025,1.85)(2030,1.70)(2035,1.50)(2040,1.30)(2045,1.05)(2050,0.75)(2060,0.30)(2070,0.15)(2100,0.05)};
\addplot[ar6] coordinates {(2020,2.02)(2025,1.92)(2030,1.78)(2035,1.60)(2040,1.40)(2045,1.25)(2050,1.05)(2060,0.70)(2065,0.55)(2070,0.40)(2080,0.25)(2090,0.15)(2100,0.10)};
\addplot[ar6] coordinates {(2020,2.04)(2025,2.00)(2030,1.85)(2035,1.70)(2040,1.50)(2045,1.30)(2050,1.10)(2060,0.65)(2070,0.35)(2080,0.20)(2100,0.15)};
\addplot[ar6] coordinates {(2020,2.02)(2025,1.88)(2030,1.72)(2035,1.60)(2040,1.50)(2045,1.40)(2050,1.20)(2060,0.90)(2070,0.55)(2080,0.40)(2090,0.30)(2100,0.22)};
\addplot[ar6] coordinates {(2020,2.02)(2025,1.95)(2030,1.60)(2035,1.45)(2040,1.20)(2045,1.00)(2050,0.70)(2060,0.35)(2070,0.25)(2080,0.20)(2100,0.18)};
\addplot[ar6] coordinates {(2020,2.02)(2025,1.90)(2030,1.68)(2035,1.40)(2040,1.25)(2045,0.95)(2050,0.55)(2060,0.25)(2070,0.12)(2100,0.05)};
\addplot[ar6] coordinates {(2020,2.02)(2025,1.97)(2030,1.82)(2035,1.68)(2040,1.35)(2045,0.80)(2050,0.45)(2060,0.22)(2070,0.15)(2080,0.12)(2100,0.10)};
\addplot[ar6] coordinates {(2020,2.36)(2025,2.30)(2030,2.05)(2035,1.80)(2040,1.55)(2045,1.20)(2050,0.80)(2055,0.72)(2060,0.70)(2070,0.30)(2080,0.15)(2100,0.12)};
\addplot[ar6] coordinates {(2020,2.02)(2025,1.85)(2030,1.65)(2035,1.50)(2040,1.35)(2045,1.20)(2050,1.10)(2060,0.60)(2070,0.20)(2080,0.10)(2100,0.08)};
\addplot[ar6] coordinates {(2020,2.02)(2025,2.02)(2030,1.90)(2035,1.80)(2040,1.60)(2045,1.45)(2050,1.30)(2060,0.90)(2070,0.45)(2080,0.25)(2090,0.20)(2100,0.18)};
\addplot[ar6] coordinates {(2020,2.02)(2025,1.75)(2030,1.60)(2035,1.35)(2040,1.15)(2045,0.90)(2050,0.65)(2060,0.30)(2070,0.17)(2100,0.10)};
\addplot[gc] coordinates {(2015,2.37)(2020,2.55)(2025,2.75)(2030,2.95)(2035,2.80)(2040,2.60)(2045,2.20)(2050,1.70)(2055,0.90)(2060,0.35)(2070,0.05)(2100,0)};
\addplot[gc] coordinates {(2015,2.37)(2020,2.55)(2025,2.60)(2030,2.70)(2035,2.72)(2040,2.50)(2045,2.10)(2050,1.60)(2055,0.80)(2060,0.30)(2070,0.08)(2100,0.02)};
\addplot[gc] coordinates {(2020,2.55)(2025,2.00)(2030,1.97)(2035,1.75)(2040,1.10)(2045,0.60)(2050,0.30)(2060,0.10)(2070,0.02)(2100,0)};
\addplot[gc] coordinates {(2020,2.55)(2025,2.00)(2030,1.90)(2035,1.70)(2040,1.00)(2050,0.35)(2060,0.12)(2100,0)};
\addplot[lowt] coordinates {(2015,3.22)(2020,3.405)(2025,3.36)(2030,3.29)(2035,3.02)(2040,2.85)(2045,2.55)(2050,2.21)(2055,1.96)(2060,1.78)(2065,1.63)(2070,1.51)(2075,1.43)(2080,1.33)(2085,1.21)(2090,1.10)(2095,1.00)(2100,0.94)};
\addplot[medt] coordinates {(2015,3.22)(2020,3.405)(2025,3.33)(2030,3.15)(2035,2.72)(2040,2.42)(2045,2.12)(2050,1.76)(2055,1.36)(2060,0.88)(2065,0.52)(2070,0.31)(2075,0.19)(2080,0.14)(2085,0.095)(2090,0.045)(2095,0.02)(2100,0.005)};
\addplot[hight] coordinates {(2015,3.22)(2020,3.405)(2025,3.11)(2030,2.62)(2035,1.34)(2040,0.67)(2045,0.25)(2050,0)(2100,0)};
\nlab{24}
\end{axis}

% Total passenger
\begin{axis}[ggc, at={(562.3pt,-1032pt)}, ymin=-0.287, ymax=6.02,
  ytick={0,2,4,6}, yticklabels={0,2,4,6}, minor ytick={1,3,5}, title={Total passenger}]
\addplot[ar6] coordinates {(2015,4.3)(2020,5.25)(2025,5.5)(2030,5.72)(2035,5.45)(2040,4.6)(2045,3.8)(2050,3.1)(2055,2.9)(2060,2.7)(2070,2.3)(2080,2.1)(2090,1.98)(2100,1.86)};
\addplot[ar6] coordinates {(2015,3.8)(2020,4.1)(2025,4.3)(2030,4.4)(2035,4.25)(2040,4.0)(2045,3.6)(2050,3.05)(2060,2.4)(2070,1.75)(2080,1.45)(2090,1.25)(2100,1.15)};
\addplot[ar6] coordinates {(2020,5.25)(2025,5.35)(2030,5.55)(2035,5.1)(2040,4.1)(2045,2.9)(2050,2.0)(2060,1.3)(2070,1.15)(2080,1.1)(2090,1.15)(2100,1.25)};
\addplot[ar6] coordinates {(2020,5.25)(2025,5.3)(2030,5.25)(2035,4.6)(2040,3.4)(2045,2.3)(2050,1.5)(2060,1.0)(2070,0.9)(2080,0.95)(2090,0.9)(2100,1.0)};
\addplot[ar6] coordinates {(2020,5.25)(2025,5.2)(2030,5.05)(2035,4.3)(2040,3.1)(2050,1.3)(2060,0.6)(2070,0.55)(2080,0.58)(2090,0.63)(2100,0.7)};
\addplot[ar6] coordinates {(2015,2.85)(2020,2.5)(2025,2.1)(2030,0.75)(2035,0.5)(2040,0.7)(2050,0.55)(2060,0.3)(2070,0.15)(2100,0.05)};
\addplot[ar6] coordinates {(2015,2.5)(2020,2.3)(2025,2.0)(2030,1.1)(2035,0.8)(2040,0.55)(2050,0.4)(2060,0.25)(2100,0.05)};
\addplot[ar6] coordinates {(2020,2.5)(2025,2.45)(2030,2.35)(2035,2.15)(2040,1.75)(2045,1.35)(2050,1.0)(2060,0.5)(2070,0.25)(2080,0.15)(2100,0.1)};
\addplot[ar6] coordinates {(2020,2.5)(2025,2.38)(2030,2.3)(2035,2.1)(2040,1.6)(2045,1.2)(2050,0.85)(2060,0.45)(2070,0.2)(2100,0.05)};
\addplot[ar6] coordinates {(2020,2.5)(2025,2.3)(2030,2.2)(2035,1.95)(2040,1.55)(2045,1.1)(2050,0.75)(2060,0.35)(2070,0.15)(2100,0.05)};
\addplot[ar6] coordinates {(2020,2.45)(2025,2.2)(2030,2.05)(2035,1.8)(2040,1.45)(2045,1.05)(2050,0.7)(2060,0.3)(2070,0.15)(2100,0.1)};
\addplot[ar6] coordinates {(2020,2.45)(2025,2.1)(2030,1.95)(2035,1.7)(2040,1.35)(2045,0.95)(2050,0.62)(2060,0.32)(2070,0.2)(2100,0.1)};
\addplot[ar6] coordinates {(2020,2.4)(2025,2.05)(2030,1.85)(2035,1.55)(2040,1.25)(2045,0.85)(2050,0.55)(2060,0.25)(2070,0.12)(2100,0.05)};
\addplot[ar6] coordinates {(2020,2.4)(2025,2.0)(2030,1.75)(2035,1.45)(2040,1.1)(2045,0.75)(2050,0.5)(2060,0.3)(2070,0.2)(2100,0.08)};
\addplot[ar6] coordinates {(2020,2.35)(2025,1.95)(2030,1.6)(2035,1.35)(2040,1.0)(2045,0.7)(2050,0.5)(2060,0.3)(2080,0.1)(2100,0.05)};
\addplot[ar6] coordinates {(2020,2.35)(2025,1.9)(2030,1.5)(2035,1.15)(2040,0.9)(2045,0.6)(2050,0.45)(2060,0.25)(2100,0.05)};
\addplot[ar6] coordinates {(2020,2.5)(2025,2.4)(2030,2.25)(2035,2.05)(2040,1.85)(2045,1.55)(2050,1.25)(2060,0.85)(2070,0.6)(2080,0.55)(2090,0.6)(2100,0.7)};
\addplot[ar6] coordinates {(2020,2.45)(2025,2.25)(2030,2.1)(2035,1.9)(2040,1.6)(2050,0.9)(2060,0.4)(2070,0.25)(2100,0.15)};
\addplot[ar6] coordinates {(2020,2.4)(2025,2.15)(2030,1.9)(2035,1.6)(2040,1.3)(2050,0.7)(2060,0.45)(2070,0.3)(2100,0.1)};
\addplot[ar6] coordinates {(2020,2.5)(2025,2.35)(2030,2.15)(2035,1.9)(2040,1.45)(2050,0.8)(2060,0.35)(2070,0.2)(2100,0.1)};
\addplot[gc] coordinates {(2015,4.25)(2020,4.12)(2025,3.95)(2030,3.55)(2035,3.1)(2040,2.6)(2045,2.05)(2050,1.45)(2060,0.75)(2070,0.4)(2080,0.2)(2100,0.1)};
\addplot[gc] coordinates {(2020,4.12)(2025,3.3)(2030,2.7)(2035,2.2)(2040,1.6)(2045,1.2)(2050,0.85)(2060,0.7)(2070,0.4)(2080,0.15)(2100,0.05)};
\addplot[gc] coordinates {(2020,4.12)(2025,3.9)(2030,3.4)(2035,2.8)(2040,2.1)(2050,1.2)(2060,0.5)(2070,0.2)(2080,0.1)(2100,0.08)};
\addplot[gc] coordinates {(2020,4.12)(2025,3.0)(2030,2.5)(2035,2.0)(2040,1.4)(2050,0.5)(2060,0.15)(2070,0.05)(2100,0.05)};
\addplot[lowt] coordinates {(2015,4.68)(2020,4.85)(2025,4.66)(2030,4.17)(2035,3.50)(2040,2.81)(2045,2.47)(2050,2.15)(2055,1.99)(2060,1.90)(2065,1.87)(2070,1.83)(2075,1.80)(2080,1.74)(2085,1.61)(2090,1.48)(2095,1.39)(2100,1.29)};
\addplot[medt] coordinates {(2015,4.68)(2020,4.85)(2025,4.49)(2030,3.62)(2035,2.73)(2040,2.04)(2045,1.58)(2050,1.14)(2055,0.84)(2060,0.60)(2065,0.48)(2070,0.40)(2075,0.33)(2080,0.27)(2085,0.20)(2090,0.14)(2095,0.08)(2100,0.03)};
\addplot[hight] coordinates {(2015,4.68)(2020,4.85)(2025,4.21)(2030,2.79)(2035,1.67)(2040,0.72)(2045,0.24)(2050,0)(2100,0)};
\nlab{24}
\end{axis}

% Total transport
\begin{axis}[ggc, at={(979pt,-1032pt)}, ymin=-0.626, ymax=13.14,
  ytick={0,4,8,12}, yticklabels={0,4,8,12}, minor ytick={2,6,10}, title={Total transport}]
\pgfplotsinvokeforeach{1,...,45}{\addplot[ar6t] table[x=yr,y=t#1]{\ttgray};}
\pgfplotsinvokeforeach{1,...,30}{\addplot[ar6t] table[x=yr,y=u#1]{\ttgrayb};}
\pgfplotsinvokeforeach{1,...,15}{\addplot[gc] table[x=yr,y=g#1]{\ttgcam};}
\addplot[gc] coordinates {(2015,7.7)(2020,8.0)(2025,8.3)(2030,8.6)(2035,8.9)(2040,9.0)(2045,9.1)(2050,9.15)(2055,9.3)(2060,9.85)(2065,10.6)(2070,11.4)(2075,11.9)(2080,12.35)(2085,12.5)(2090,12.5)(2095,12.3)(2100,11.9)};
\addplot[gc] coordinates {(2015,7.8)(2020,8.1)(2025,8.9)(2030,9.7)(2035,10.3)(2040,10.6)(2045,10.6)(2050,10.05)(2055,8.9)(2060,7.8)(2070,6.6)(2080,6.2)(2090,5.9)(2100,5.6)};
\addplot[lowt] coordinates {(2015,7.90)(2020,8.25)(2025,8.08)(2030,7.44)(2035,6.58)(2040,5.74)(2045,5.09)(2050,4.45)(2055,4.03)(2060,3.72)(2065,3.54)(2070,3.40)(2075,3.30)(2080,3.12)(2085,2.88)(2090,2.63)(2095,2.38)(2100,2.22)};
\addplot[medt] coordinates {(2015,7.90)(2020,8.25)(2025,7.79)(2030,6.72)(2035,5.53)(2040,4.56)(2045,3.79)(2050,2.95)(2055,2.23)(2060,1.49)(2065,0.98)(2070,0.66)(2075,0.47)(2080,0.38)(2085,0.28)(2090,0.18)(2095,0.10)(2100,0.03)};
\addplot[hight] coordinates {(2015,7.90)(2020,8.25)(2025,7.25)(2030,5.53)(2035,3.02)(2040,1.35)(2045,0.47)(2050,0)(2100,0)};
\nlab{358}
\end{axis}

% legend of panel c
\node[anchor=base west, inner sep=0pt, font=\sans\fs{23}] at (1460pt,-1143pt) {Scenario type};
\begin{axis}[hide axis, scale only axis, width=20pt, height=20pt, at={(1461pt,-1160pt)}, anchor=north west,
  xmin=0, xmax=1, ymin=0, ymax=1,
  legend style={at={(0,1)}, anchor=north west, draw=none, fill=none, inner sep=0pt, outer sep=0pt, row sep=0pt,
    font=\sans\fs{19.5}, nodes={inner sep=0pt, anchor=west, text height=14.3pt, text depth=4.7pt}},
  legend cell align=left,
  legend image code/.code={\draw[#1] (0pt,6.8pt) -- (16pt,6.8pt); \path (29.7pt,0pt);}]
\addlegendimage{draw=gcam, line width=1.3pt, draw opacity=0.8}
\addlegendentry{AR6: GCAM}
\addlegendimage{draw=gray!50, line width=1.3pt, draw opacity=0.7}
\addlegendentry{AR6: other models}
\addlegendimage{draw=prcol, line width=1.3pt, draw opacity=0.6}
\addlegendentry{1.5C low transport tech}
\addlegendimage{draw=bucol, line width=1.3pt, draw opacity=0.6}
\addlegendentry{1.5C medium transport tech}
\addlegendimage{draw=lhcol, line width=1.3pt, draw opacity=0.6}
\addlegendentry{1.5C high transport tech}
\end{axis}

% ---------------- caption ----------------
\begin{scope}[every node/.style={anchor=base west, inner sep=0pt, font=\rmfamily\fs{26.8}}]
\node at (22pt,-1463pt) {\textbf{Fig. 1 | Global transportation CO\textsubscript{2} emissions across scenarios.} \textbf{a} Global CO\textsubscript{2}};
\node at (22pt,-1497.7pt) {emissions from the transportation sector, by mode, across the four scenarios.};
\node at (22pt,-1532.4pt) {\textbf{b} Cumulative global CO\textsubscript{2} emissions from the transportation sector, by mode, from};
\node at (22pt,-1567.1pt) {2020 to 2100. \textbf{c} Global CO\textsubscript{2} emissions from the transportation sector and from};
\node at (22pt,-1601.8pt) {aggregated groups of modes in our three decarbonization scenarios compared to};
\node at (22pt,-1636.5pt) {scenarios in the Sixth Assessment Report (AR6) database that are consistent with};
\node at (22pt,-1671.2pt) {limiting end-of-century warming to 1.5\,°C (with scenarios in the database generated};
\node at (22pt,-1705.9pt) {by the Global Change Analysis Model (GCAM) shown in brown and scenarios};
\node at (954.5pt,-1463pt) {generated by all other models shown in gray). The number of scenarios from the};
\node at (954.5pt,-1497.7pt) {database with results for each subset of transportation modes is indicated by the};
\node at (954.5pt,-1532.4pt) {number in gray at the top of each panel. Note that the GCAM scenarios in the AR6};
\node at (954.5pt,-1567.1pt) {database employed earlier versions of GCAM than the version used in this study,};
\node at (954.5pt,-1601.8pt) {and thus the scenarios may differ in historical periods due to differences in cali-};
\node at (954.5pt,-1636.5pt) {bration data and other model updates. For a comparable figure showing fuel use by};
\node at (954.5pt,-1671.2pt) {the transportation sector, see Supplementary Fig. 21. HSR high-speed rail.};
\end{scope}
\end{tikzpicture}
\end{document}
